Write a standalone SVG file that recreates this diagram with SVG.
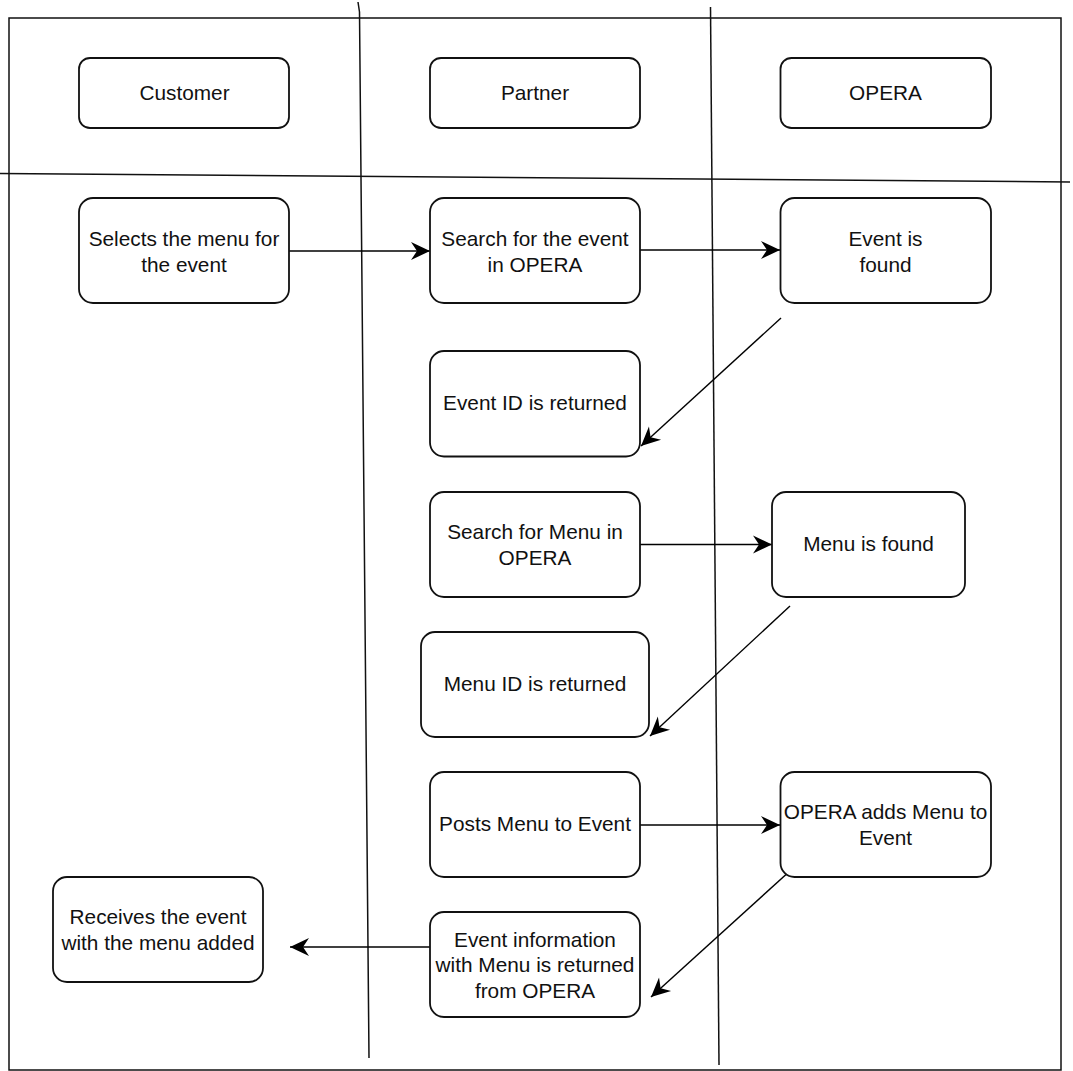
<svg xmlns="http://www.w3.org/2000/svg" width="1073" height="1071" viewBox="0 0 1073 1071">
<style>
.box{fill:#fff;stroke:#111;stroke-width:1.8}
.lane{fill:none;stroke:#111;stroke-width:1.5}
.conn{fill:none;stroke:#000;stroke-width:1.4}
text{font-family:"Liberation Sans",Arial,sans-serif;font-size:20.8px;fill:#111;text-anchor:middle}
</style>
<defs>
<marker id="arr" markerUnits="userSpaceOnUse" viewBox="-21 -11 22 22" markerWidth="22" markerHeight="22" refX="0" refY="0" orient="auto">
<path d="M0,0 L-19,-9 L-13,0 L-19,9 Z" fill="#000"/>
</marker>
</defs>
<rect width="1073" height="1071" fill="#fff"/>
<g id="lanes">
<rect class="lane" x="9" y="18" width="1052" height="1052"/>
<path class="lane" d="M0,173.5 L1070,182"/>
<path class="lane" d="M358,2 L359.5,12 L369,1058"/>
<path class="lane" d="M710.5,7 L719,1065"/>
</g>
<g id="connectors">
<path class="conn" d="M289,251 L430,251" marker-end="url(#arr)"/>
<path class="conn" d="M640,250 L780,250" marker-end="url(#arr)"/>
<path class="conn" d="M781,318 L641,446" marker-end="url(#arr)"/>
<path class="conn" d="M640,544.5 L772,544.5" marker-end="url(#arr)"/>
<path class="conn" d="M790,606 L650,736" marker-end="url(#arr)"/>
<path class="conn" d="M640,825 L780,825" marker-end="url(#arr)"/>
<path class="conn" d="M791,870 L651,997" marker-end="url(#arr)"/>
<path class="conn" d="M430,947 L290,947" marker-end="url(#arr)"/>
</g>
<g id="n-customer"><rect class="box" x="79" y="58" width="210" height="70" rx="11"/><text x="184.5" y="100">Customer</text></g>
<g id="n-partner"><rect class="box" x="430" y="58" width="210" height="70" rx="11"/><text x="535" y="100">Partner</text></g>
<g id="n-opera"><rect class="box" x="780.5" y="58" width="210.5" height="70" rx="11"/><text x="885.5" y="100">OPERA</text></g>
<g id="n-selects"><rect class="box" x="79" y="198" width="210" height="105" rx="14"/><text x="184" y="245.5">Selects the menu for</text><text x="184" y="271.5">the event</text></g>
<g id="n-search-event"><rect class="box" x="430" y="198" width="210" height="105" rx="14"/><text x="535" y="245.5">Search for the event</text><text x="535" y="271.5">in OPERA</text></g>
<g id="n-event-found"><rect class="box" x="780.5" y="198" width="210.5" height="105" rx="14"/><text x="885.5" y="245.5">Event is</text><text x="885.5" y="271.5">found</text></g>
<g id="n-event-id"><rect class="box" x="430" y="351" width="210" height="105.5" rx="14"/><text x="535" y="410">Event ID is returned</text></g>
<g id="n-search-menu"><rect class="box" x="430" y="492" width="210" height="105" rx="14"/><text x="535" y="538.5">Search for Menu in</text><text x="535" y="564.5">OPERA</text></g>
<g id="n-menu-found"><rect class="box" x="772" y="492" width="193" height="105" rx="14"/><text x="868.5" y="550.5">Menu is found</text></g>
<g id="n-menu-id"><rect class="box" x="421" y="632" width="228" height="105" rx="14"/><text x="535" y="690.5">Menu ID is returned</text></g>
<g id="n-posts"><rect class="box" x="430" y="772" width="210" height="105" rx="14"/><text x="535" y="831">Posts Menu to Event</text></g>
<g id="n-opera-adds"><rect class="box" x="780.5" y="772" width="210.5" height="105" rx="14"/><text x="885.5" y="819">OPERA adds Menu to</text><text x="885.5" y="845">Event</text></g>
<g id="n-receives"><rect class="box" x="53" y="877" width="210" height="105" rx="14"/><text x="158" y="924">Receives the event</text><text x="158" y="950">with the menu added</text></g>
<g id="n-event-info"><rect class="box" x="430" y="912" width="210" height="105" rx="14"/><text x="535" y="946.5">Event information</text><text x="535" y="972">with Menu is returned</text><text x="535" y="997.5">from OPERA</text></g>
</svg>
